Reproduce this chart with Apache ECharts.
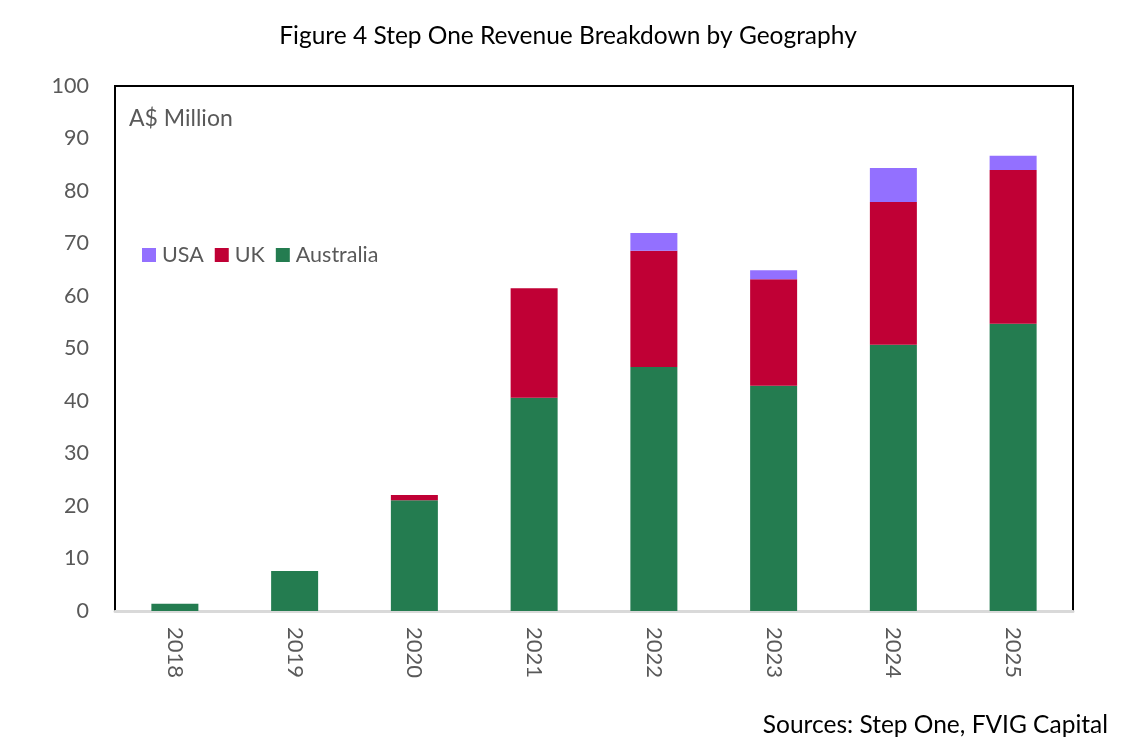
<!DOCTYPE html>
<html>
<head>
<meta charset="utf-8">
<script src="https://cdn.jsdelivr.net/npm/echarts@6/dist/echarts.min.js"></script>
<style>
  html, body { margin: 0; padding: 0; background: #fff; }
  #chart { width: 1136px; height: 752px; }
</style>
</head>
<body>
<div id="chart"></div>
<script>
// revenue by geography, A$ million
const years = ['2018', '2019', '2020', '2021', '2022', '2023', '2024', '2025'];
const australia = [1.4, 7.6, 21.1, 40.6, 46.5, 42.9, 50.7, 54.7];
const uk = [0, 0, 1.0, 20.9, 22.1, 20.3, 27.2, 29.3];
const usa = [0, 0, 0, 0, 3.4, 1.7, 6.5, 2.7];

const font = 'Lato, "Noto Sans", sans-serif';
const grey = '#595959';

const chart = echarts.init(document.getElementById('chart'));

chart.setOption({
  animation: false,
  textStyle: { fontFamily: font },
  title: [
    {
      text: 'Figure 4 Step One Revenue Breakdown by Geography',
      left: 'center',
      top: 19,
      textStyle: { fontFamily: font, fontSize: 24.5, fontWeight: 'normal', color: '#000' }
    },
    {
      text: 'A$ Million',
      left: 124,
      top: 102,
      textStyle: { fontFamily: font, fontSize: 23, fontWeight: 'normal', color: grey }
    },
    {
      text: 'Sources: Step One, FVIG Capital',
      right: 23,
      top: 708,
      textStyle: { fontFamily: font, fontSize: 24.5, fontWeight: 'normal', color: '#000' }
    }
  ],
  legend: {
    left: 137,
    top: 239,
    itemWidth: 14,
    itemHeight: 14,
    itemGap: 11,
    icon: 'rect',
    data: ['USA', 'UK', 'Australia'],
    textStyle: { fontFamily: font, fontSize: 21.5, color: grey, padding: [0, 0, 0, 1] }
  },
  grid: {
    left: 115,
    right: 63,
    top: 86,
    bottom: 141,
    show: true,
    borderColor: '#000',
    borderWidth: 2
  },
  xAxis: {
    type: 'category',
    data: years,
    axisLine: { lineStyle: { color: '#d9d9d9', width: 3 } },
    axisTick: { show: false },
    axisLabel: {
      rotate: -90,
      margin: 16,
      fontFamily: font,
      fontSize: 22,
      color: grey
    }
  },
  yAxis: {
    type: 'value',
    min: 0,
    max: 100,
    interval: 10,
    splitLine: { show: false },
    axisLine: { show: false },
    axisTick: { show: false },
    axisLabel: { margin: 26, fontFamily: font, fontSize: 21.5, color: grey }
  },
  series: [
    {
      name: 'Australia',
      type: 'bar',
      stack: 'rev',
      barWidth: 47,
      itemStyle: { color: '#247c50' },
      data: australia
    },
    {
      name: 'UK',
      type: 'bar',
      stack: 'rev',
      barWidth: 47,
      itemStyle: { color: '#c00035' },
      data: uk
    },
    {
      name: 'USA',
      type: 'bar',
      stack: 'rev',
      barWidth: 47,
      itemStyle: { color: '#9370ff' },
      data: usa
    }
  ]
});
</script>
</body>
</html>
